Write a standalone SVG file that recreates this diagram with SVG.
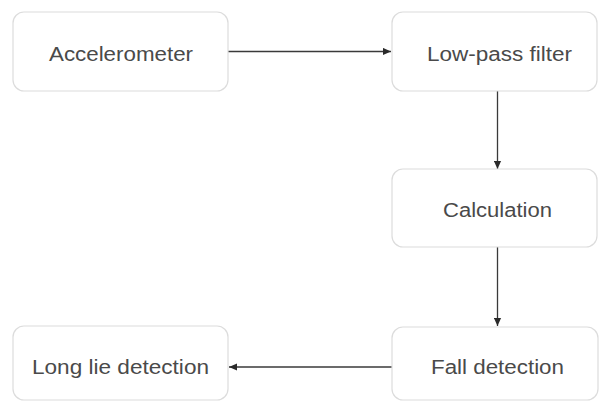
<svg xmlns="http://www.w3.org/2000/svg" width="599" height="402" viewBox="0 0 599 402">
<style>
.box{fill:#fff;stroke:#dcdcdc;stroke-width:1.2}
.lbl{font-family:"Liberation Sans",Arial,sans-serif;font-size:20px;fill:#4a4a4a;text-anchor:middle}
.edge{stroke:#3a3a3a;stroke-width:1.3;fill:none}
</style>
<defs>
<marker id="ah" viewBox="0 0 10 10" refX="10" refY="5" markerWidth="8" markerHeight="8" markerUnits="userSpaceOnUse" orient="auto">
<path d="M0,0.5 L10,5 L0,9.5 Z" fill="#2a2a2a"/>
</marker>
</defs>
<rect width="599" height="402" fill="#fff"/>
<g id="connectors">
<line class="edge" x1="228" y1="51.5" x2="391" y2="51.5" marker-end="url(#ah)"/>
<line class="edge" x1="497.5" y1="91" x2="497.5" y2="169" marker-end="url(#ah)"/>
<line class="edge" x1="497.5" y1="247" x2="497.5" y2="326" marker-end="url(#ah)"/>
<line class="edge" x1="392" y1="367" x2="229" y2="367" marker-end="url(#ah)"/>
</g>
<g id="accelerometer">
<rect class="box" x="13" y="12" width="215" height="79" rx="11"/>
<text class="lbl" x="121" y="60.5" textLength="144" lengthAdjust="spacingAndGlyphs">Accelerometer</text>
</g>
<g id="lowpass">
<rect class="box" x="392" y="12" width="205" height="79" rx="11"/>
<text class="lbl" x="499.5" y="61" textLength="145" lengthAdjust="spacingAndGlyphs">Low-pass filter</text>
</g>
<g id="calculation">
<rect class="box" x="392" y="169" width="205" height="78" rx="11"/>
<text class="lbl" x="497.5" y="217" textLength="109" lengthAdjust="spacingAndGlyphs">Calculation</text>
</g>
<g id="falldetection">
<rect class="box" x="392" y="327" width="206" height="73" rx="11"/>
<text class="lbl" x="497.5" y="373.5" textLength="133" lengthAdjust="spacingAndGlyphs">Fall detection</text>
</g>
<g id="longlie">
<rect class="box" x="13" y="326" width="215" height="74" rx="11"/>
<text class="lbl" x="120.5" y="374" textLength="177" lengthAdjust="spacingAndGlyphs">Long lie detection</text>
</g>
</svg>
